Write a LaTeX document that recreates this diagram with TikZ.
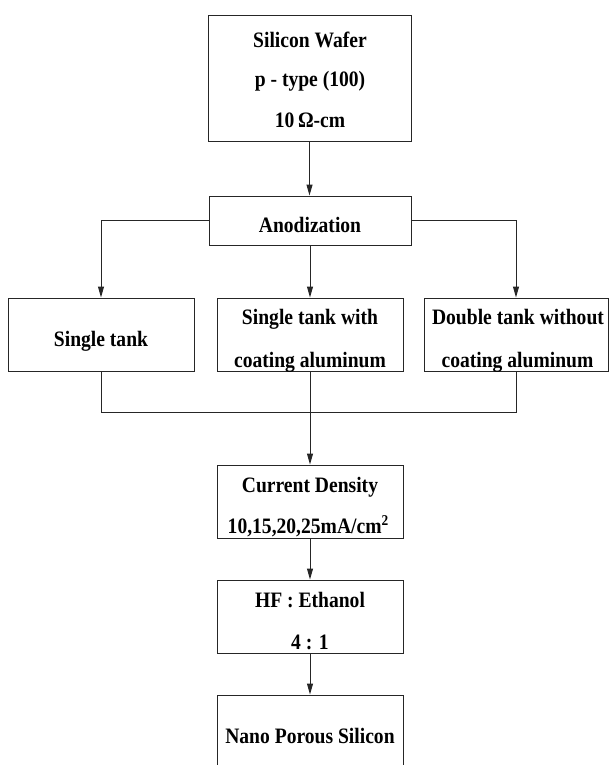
\documentclass[tikz,border=0pt]{standalone}
\usepackage{fontspec}
\setmainfont{Liberation Serif}[FakeStretch=0.89]
\usetikzlibrary{arrows.meta}
\begin{document}
\begin{tikzpicture}[x=1pt,y=-1pt,
  boxst/.style={draw=black!85, line width=1pt, inner sep=0pt, rectangle},
  txt/.style={font=\bfseries\fontsize{22}{24}\selectfont, anchor=base, inner sep=0pt},
  arr/.style={draw=black!85, line width=1pt, -{Triangle[length=11pt,width=6pt]}},
  ln/.style={draw=black!85, line width=1pt}]
\useasboundingbox (0,0) rectangle (609,765);
\clip (0,0) rectangle (609,765);
% boxes
\node[boxst, minimum width=203pt, minimum height=125pt] (wafer) at (309.5,78.5) {};
\node[boxst, minimum width=202pt, minimum height=49pt] (anod) at (310,220.5) {};
\node[boxst, minimum width=186pt, minimum height=73pt] (single) at (101,334.5) {};
\node[boxst, minimum width=186pt, minimum height=73pt] (swith) at (310,334.5) {};
\node[boxst, minimum width=184pt, minimum height=73pt] (dbl) at (516,334.5) {};
\node[boxst, minimum width=186pt, minimum height=73pt] (cd) at (310,501.5) {};
\node[boxst, minimum width=186pt, minimum height=73pt] (hf) at (310,616.5) {};
\node[boxst, minimum width=186pt, minimum height=105pt] (nano) at (310,747.5) {};
% texts
\node[txt] (t1) at (310,48) {Silicon Wafer};
\node[txt] (t2) at (310,87) {p - type (100)};
\node[txt] (t3) at (310,128) {10\,Ω-cm};
\node[txt] (t4) at (310,232) {Anodization};
\node[txt] (t5) at (101,346) {Single tank};
\node[txt] (t6) at (310,324) {Single tank with};
\node[txt] (t7) at (310,367) {coating aluminum};
\node[txt] (t8) at (518,324) {Double tank without};
\node[txt] (t9) at (517.5,367) {coating aluminum};
\node[txt] (t10) at (310,492) {Current Density};
\node[txt] (t11) at (308,533) {10,15,20,25mA/cm\raisebox{8pt}{\fontsize{15}{15}\selectfont 2}};
\node[txt] (t12) at (310,607) {HF : Ethanol};
\node[txt] (t13) at (310,649) {4 : 1};
\node[txt] (t14) at (310,743) {Nano Porous Silicon};
% connectors
\coordinate (join) at (310,412.5);
\draw[arr] (wafer.south) -- (wafer.south |- anod.north);
\draw[arr] (anod.west) -| (single.north);
\draw[arr] (anod.south) -- (swith.north);
\draw[arr] (anod.east) -| (dbl.north);
\draw[ln] (single.south) |- (join);
\draw[ln] (dbl.south) |- (join);
\draw[arr] (swith.south) -- (cd.north);
\draw[arr] (cd.south) -- (hf.north);
\draw[arr] (hf.south) -- (nano.north);
\end{tikzpicture}
\end{document}
